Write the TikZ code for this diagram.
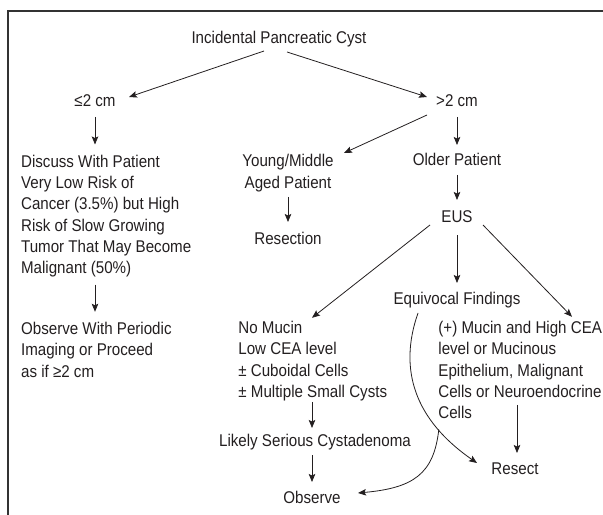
\documentclass[tikz,border=0pt]{standalone}
\usepackage{fontspec}
\setmainfont{Liberation Sans}[FakeStretch=0.89]
\usetikzlibrary{arrows.meta}
\definecolor{ink}{HTML}{231F20}
\definecolor{frame}{HTML}{333333}

\begin{document}
\begin{tikzpicture}[x=1bp, y=-1bp, line width=0.8bp,
    font=\fontsize{17bp}{21.3bp}\selectfont, color=ink,
    lbl/.style={inner sep=0pt, anchor=base},
    blk/.style={inner sep=0pt, anchor=north west, align=left},
    arr/.style={draw=ink, -{Stealth[length=8bp, width=6.5bp, inset=1.5bp]}}]
  \useasboundingbox (0,0) rectangle (603,515);
  % frame (cropped at right and bottom)
  \draw[frame, line width=2bp] (8,515) -- (8,11) -- (603,11);

  % top split
  \node[lbl] (cyst) at (279,44) {Incidental Pancreatic Cyst};
  \node[lbl] (small) at (95,107) {≤2 cm};
  \node[lbl] (large) at (457,107) {>2 cm};
  \draw[arr] ([shift={(-15,7)}]cyst.base) -- ([shift={(34,-10)}]small.base);
  \draw[arr] ([shift={(8,8)}]cyst.base) -- ([shift={(-30,-10)}]large.base);

  % small cyst branch
  \node[blk] (discuss) at (20.7,154.5) {Discuss With Patient\\Very Low Risk of\\Cancer (3.5\%) but High\\Risk of Slow Growing\\Tumor That May Become\\Malignant (50\%)};
  \node[blk] (watch) at (20.7,321.8) {Observe With Periodic\\Imaging or Proceed\\as if ≥2 cm};
  \draw[arr] ([shift={(0,10)}]small.base) -- ([shift={(0,-10)}]discuss.north -| small.base);
  \draw[arr] ([shift={(74.3,130)}]discuss.north west) -- ([shift={(74.3,-10)}]watch.north west);

  % large cyst branch
  \node[inner sep=0pt, anchor=north, align=center] (young) at (288,154) {Young/Middle\\Aged Patient};
  \node[lbl] (resection) at (288,244) {Resection};
  \node[lbl] (older) at (457,166) {Older Patient};
  \node[lbl] (eus) at (457,223) {EUS};
  \draw[arr] ([shift={(-30,8)}]large.base) -- ([shift={(56,-1)}]young.north);
  \draw[arr] ([shift={(0,10)}]large.base) -- ([shift={(0,-21)}]older.base);
  \draw[arr] ([shift={(0,43)}]young.north) -- ([shift={(0,-22)}]resection.base);
  \draw[arr] ([shift={(0,9)}]older.base) -- ([shift={(0,-23)}]eus.base);

  % EUS findings
  \node[blk] (nomucin) at (238,320.8) {No Mucin\\Low CEA level\\± Cuboidal Cells\\± Multiple Small Cysts};
  \node[lbl] (equiv) at (457,304) {Equivocal Findings};
  \node[blk] (mucin) at (438,320.8) {(+) Mucin and High CEA\\level or Mucinous\\Epithelium, Malignant\\Cells or Neuroendocrine\\Cells};
  \node[lbl] (serous) at (315,446) {Likely Serious Cystadenoma};
  \node[lbl] (observe) at (312,503) {Observe};
  \node[lbl] (resect) at (515,474) {Resect};
  \draw[arr] ([shift={(-27,2)}]eus.base) -- ([shift={(74,-3)}]nomucin.north west);
  \draw[arr] ([shift={(0,12)}]eus.base) -- ([shift={(0,-21)}]equiv.base);
  \draw[arr] ([shift={(26,2)}]eus.base) -- ([shift={(134,-4)}]mucin.north west);
  \draw[arr] ([shift={(74,81)}]nomucin.north west) -- ([shift={(-3,-18)}]serous.base);
  \draw[arr] ([shift={(-3,9)}]serous.base) -- ([shift={(0,-21)}]observe.base);
  \draw[arr] ([shift={(79,84)}]mucin.north west) -- ([shift={(2,-21)}]resect.base);

  % equivocal: either way
  \draw[arr] ([shift={(-39,9)}]equiv.base) .. controls +(-20,57) and +(-62,-43) ..
    coordinate[pos=0.75] (split) ([shift={(-38,-11)}]resect.base);
  \draw[arr] (split) .. controls +(-5,45) and +(55,-5) .. ([shift={(46,-10)}]observe.base);
\end{tikzpicture}
\end{document}
